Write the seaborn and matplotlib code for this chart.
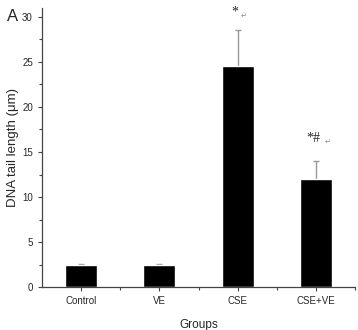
import matplotlib
matplotlib.use("Agg")
import matplotlib.pyplot as plt
import seaborn as sns
import pandas as pd
from matplotlib.ticker import MultipleLocator, FixedLocator

groups = ["Control", "VE", "CSE", "CSE+VE"]
tail_length = [2.45, 2.5, 24.5, 12.0]
tail_err = [0.08, 0.1, 4.0, 2.0]
marks = ["", "", "*", "*#"]

sns.set_style("white")
plt.rcParams["font.family"] = ["Liberation Sans", "DejaVu Sans"]

df = pd.DataFrame({"group": groups, "length": tail_length, "err": tail_err})
df["top"] = df["length"] + df["err"]

fig = plt.figure(figsize=(3.58, 3.30), dpi=100)
ax = fig.add_axes([0.117, 0.13, 0.875, 0.846])

sns.barplot(data=df, x="group", y="length", color="black", width=0.41,
            errorbar=None, saturation=1, ax=ax, zorder=2)
pos = list(range(len(groups)))
# upper-only error bars
ax.vlines(pos, df["length"], df["top"], color="#999999", linewidth=1.0, zorder=1)
ax.plot(pos, df["top"], linestyle="none", marker="_", markersize=5,
        markeredgewidth=1.0, color="#999999", zorder=1)

for x, t, m in zip(pos, df["top"], marks):
    if m:
        ym = t + (2.0 if len(m) == 1 else 2.5)
        ax.text(x - 0.03, ym, m, ha="center", va="center", fontsize=10,
                family="Liberation Serif")
        ax.text(x - 0.03 + 0.07 * len(m), ym - 0.4, "\u21b5", ha="left",
                va="center", fontsize=5, color="#888888", family="DejaVu Sans")

ax.set_xlim(-0.5, 3.5)
ax.set_ylim(0, 31)
ax.yaxis.set_major_locator(MultipleLocator(5))
ax.yaxis.set_minor_locator(MultipleLocator(2.5))
ax.xaxis.set_minor_locator(FixedLocator([0.5, 1.5, 2.5, 3.5]))
ax.tick_params(axis="both", which="major", direction="out", length=3,
               width=0.8, labelsize=7, color="#444444")
ax.tick_params(axis="both", which="minor", direction="out", length=2,
               width=0.8, color="#444444")
ax.tick_params(axis="y", left=True, which="both")
ax.tick_params(axis="x", bottom=True, which="both")

for side in ["top", "right"]:
    ax.spines[side].set_visible(False)
for side in ["left", "bottom"]:
    ax.spines[side].set_color("#444444")
    ax.spines[side].set_linewidth(0.9)

ax.set_xlabel("Groups", fontsize=8.5, labelpad=9)
ax.set_ylabel("DNA tail length (\u03bcm)", fontsize=9.5, labelpad=2)
fig.text(0.02, 0.935, "A", fontsize=12)

fig.savefig("out.png", dpi=100)
